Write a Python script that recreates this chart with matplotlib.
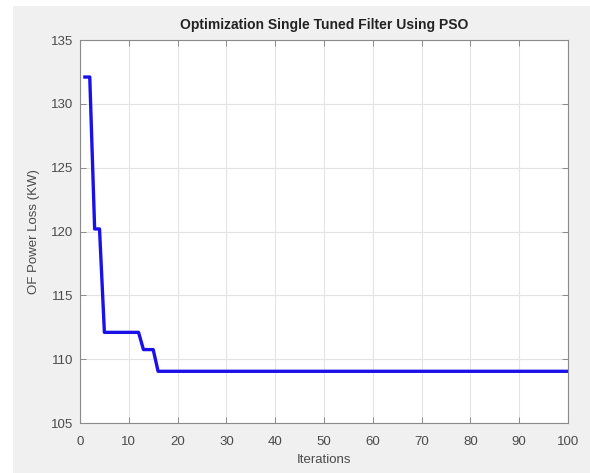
import numpy as np
import matplotlib.pyplot as plt
from matplotlib.patches import Rectangle

# data
iterations = np.arange(1, 101)
plateau_levels = [132.1, 120.2, 112.1, 110.75, 109.05]
plateau_starts = [1, 3, 5, 13, 16]   # first iteration of each level

best_cost = np.zeros(len(iterations))
for level, start in zip(plateau_levels, plateau_starts):
    best_cost[iterations >= start] = level

x_ticks = list(range(0, 101, 10))
y_ticks = list(range(105, 136, 5))

plt.rcParams['font.family'] = ['Liberation Sans', 'DejaVu Sans']

fig = plt.figure(figsize=(5.9, 4.73), dpi=100, facecolor='white')
# MATLAB-like grey figure area with a thin white border top/left
fig.patches.append(Rectangle((13 / 590, 0), 1, 1 - 6 / 473, transform=fig.transFigure,
                             facecolor='#f0f0f0', edgecolor='none', zorder=-10))

ax = fig.add_axes([80 / 590, 50 / 473, 488 / 590, 383 / 473])
ax.set_facecolor('white')
ax.plot(iterations, best_cost, color='#1a10e8', linewidth=2.4)

ax.set_xlim(0, 100)
ax.set_ylim(105, 135)
ax.set_xticks(x_ticks)
ax.set_yticks(y_ticks)
ax.grid(True, color='#e4e4e4', linewidth=0.8)
ax.set_axisbelow(True)
ax.tick_params(direction='in', top=True, right=True, length=4, width=0.7,
               colors='#8a8a8a', labelcolor='#4a4a4a', labelsize=9.5)
ax.tick_params(axis='x', pad=9)
ax.tick_params(axis='y', pad=5)
for s in ax.spines.values():
    s.set_color('#8a8a8a')
    s.set_linewidth(0.8)

ax.set_title('Optimization Single Tuned Filter Using PSO', fontsize=10,
             fontweight='bold', color='#222222', pad=8)
ax.set_xlabel('Iterations', fontsize=9.5, color='#4a4a4a', labelpad=5)
ax.set_ylabel('OF Power Loss (KW)', fontsize=9.5, color='#4a4a4a', labelpad=8)

plt.savefig('out.png', dpi=100, facecolor=fig.get_facecolor())
